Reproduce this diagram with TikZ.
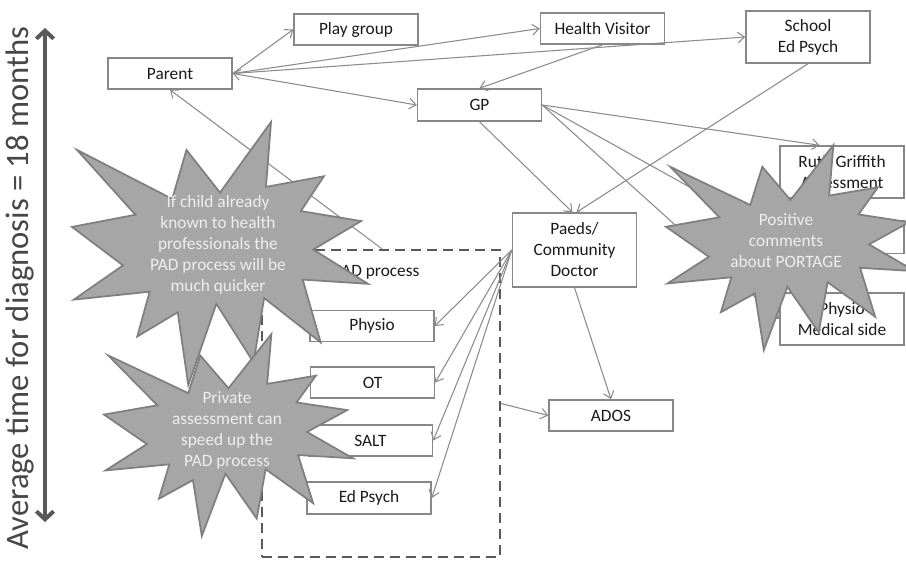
\documentclass[tikz,border=0pt]{standalone}
\usepackage{fontspec}
\setmainfont{Carlito}
\usetikzlibrary{arrows.meta}
\definecolor{boxline}{HTML}{878787}
\definecolor{connc}{HTML}{8C8C8C}
\definecolor{txt}{HTML}{1A1A1A}
\definecolor{burstfill}{HTML}{A6A6A6}
\definecolor{burstline}{HTML}{7F7F7F}
\definecolor{bursttext}{HTML}{EEEEEE}
\definecolor{darkarrow}{HTML}{595959}
\tikzset{
 box/.style={draw=boxline, line width=1.1pt, fill=white, text=txt, minimum width=93pt, minimum height=23.25pt, align=center, inner sep=0pt, font=\fontsize{13}{15.75}\selectfont},
 conn/.style={draw=connc, line width=0.8pt, -{Straight Barb[length=5pt,width=8pt]}},
 burst/.style={fill=burstfill, draw=burstline, line width=1.3pt, line join=miter},
 bursttxt/.style={text=bursttext, align=center, font=\fontsize{13}{15.75}\selectfont, inner sep=0pt}
}
\newcommand\drawburst[4]{%
\begin{scope}[shift={(#1,#2)},xscale=#3/216,yscale=#4/216]
\path[burst] (108,58) -- (145.22,0) -- (141.55,53.25) -- (183.80,44.57) -- (167.02,73.15) -- (210.97,81.37) -- (176.07,104.75) -- (216,132.90) -- (168.37,129.42) -- (181.45,180.95) -- (140.20,144.57) -- (132.47,197.37) -- (105.32,149.35) -- (84.85,216) -- (77.15,156.27) -- (47.62,176.17) -- (56.67,139.37) -- (1.35,145.87) -- (37.22,117.75) -- (0,86.15) -- (46.27,76.17) -- (3.70,22.95) -- (73.12,63.20) -- (83.52,22.95) -- cycle;
\end{scope}}
\begin{document}
\begin{tikzpicture}[x=0.75pt,y=-0.75pt]
\clip (0,0) rectangle (906,562);
\fill[white] (0,0) rectangle (906,562);

% dashed PAD region
\node[draw=darkarrow, line width=1.7pt, dash pattern=on 7.5pt off 4.5pt, minimum width=178.5pt, minimum height=230.25pt, inner sep=0pt] (padbox) at (381,403.5) {};

% boxes
\node[box] (parent) at (170,73.5) {Parent};
\node[box] (play) at (356,29.5) {Play group};
\node[box] (hv) at (602.5,28.5) {Health Visitor};
\node[box, minimum height=39pt] (school) at (808,37) {School\\Ed Psych};
\node[box, minimum height=24pt] (gp) at (479.5,105) {GP};
\node[box, minimum height=39pt] (ruth) at (842,172) {Ruth Griffith\\Assessment};
\node[box, minimum height=24.75pt] (portage) at (842,237) {Portage};
\node[box, minimum height=39pt] (physmed) at (842,319) {Physio\\Medical side};
\node[box, minimum height=55.5pt] (paeds) at (574.5,250) {Paeds/\\Community\\Doctor};
\node[box] (physio) at (372,326) {Physio};
\node[box] (ot) at (372.5,382.5) {OT};
\node[box] (salt) at (370.5,440.5) {SALT};
\node[box, minimum height=24pt] (edpsych) at (369,498) {Ed Psych};
\node[box] (ados) at (611,415.5) {ADOS};
\node[text=txt, font=\fontsize{13}{15.75}\selectfont, inner sep=0pt] (padlabel) at (376.5,272) {PAD process};

% connectors
\draw[conn] (parent.east) -- (play.west);
\draw[conn] (parent.east) -- (hv.west);
\draw[conn] (parent.east) -- (school.west);
\draw[conn, {Straight Barb[length=5pt,width=8pt]}-{Straight Barb[length=5pt,width=8pt]}] (parent.east) -- (gp.west);
\draw[conn] (hv.south) -- (gp.north);
\draw[conn] (school.south) -- ([xshift=1.5pt]paeds.north);
\draw[conn] (gp.south) -- ([xshift=-1.5pt]paeds.north);
\draw[conn] (gp.east) -- (ruth.130);
\draw[conn] (gp.east) -- (portage.west);
\draw[conn] (gp.east) -- (physmed.west);
\draw[conn] (paeds.west) -- (physio.east);
\draw[conn] (paeds.west) -- (ot.east);
\draw[conn] (paeds.west) -- (salt.east);
\draw[conn] (paeds.west) -- (edpsych.east);
\draw[conn] (paeds.south) -- (ados.north);
\draw[conn] (padbox.east) -- (ados.west);
\draw[conn] ([xshift=0.75pt]padbox.north) -- (parent.south);

% starbursts
\drawburst{72}{122}{296}{263}
\node[bursttxt] (burstA) at (218,245) {If child already\\known to health\\professionals the\\PAD process will be\\much quicker};
\drawburst{104}{334}{249}{202}
\node[bursttxt] (burstB) at (227,430) {Private\\assessment can\\speed up the\\PAD process};
\drawburst{666}{145}{249}{205}
\node[bursttxt] (burstC) at (786,241) {Positive\\comments\\about PORTAGE};

% time axis
\coordinate (ttop) at (45,28);
\coordinate (tbot) at (45,522);
\draw[darkarrow, line width=3pt, {Straight Barb[length=6pt,width=13pt]}-{Straight Barb[length=6pt,width=13pt]}] (tbot) -- (ttop);
\node[rotate=90, text=darkarrow!80!black, font=\fontsize{24.5}{29}\selectfont, inner sep=0pt] (timelabel) at (20,288) {Average time for diagnosis = 18 months};
\end{tikzpicture}
\end{document}
